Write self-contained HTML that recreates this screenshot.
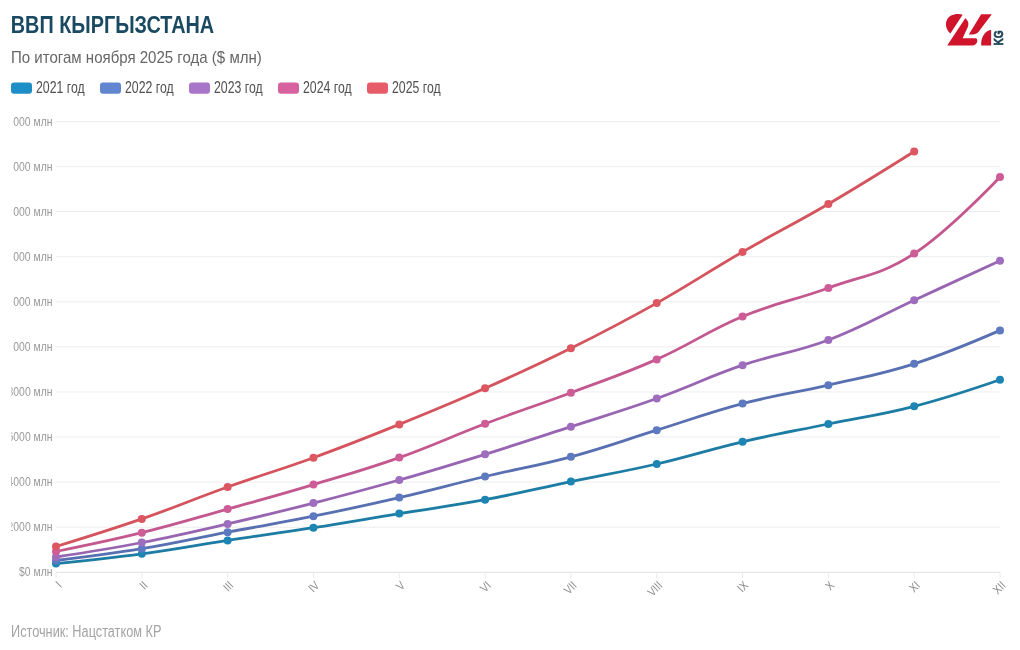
<!DOCTYPE html>
<html><head><meta charset="utf-8"><title>ВВП Кыргызстана</title>
<style>html,body{margin:0;padding:0;background:#fff;width:1020px;height:650px;overflow:hidden;font-family:"Liberation Sans",sans-serif}svg{display:block;will-change:transform}</style>
</head><body>
<svg width="1020" height="650" viewBox="0 0 1020 650">
<rect width="1020" height="650" fill="#ffffff"/>
<defs><clipPath id="ylc" clipPathUnits="userSpaceOnUse"><rect x="11.3" y="0" width="1000" height="650"/></clipPath></defs>
<text x="10.8" y="32.8" font-family="Liberation Sans, sans-serif" font-weight="bold" font-size="24.4" fill="#1a4a62" textLength="203.4" lengthAdjust="spacingAndGlyphs">ВВП КЫРГЫЗСТАНА</text>
<text x="11.0" y="62.7" font-family="Liberation Sans, sans-serif" font-size="16.6" fill="#666666" textLength="250.8" lengthAdjust="spacingAndGlyphs">По итогам ноября 2025 года ($ млн)</text>
<rect x="11" y="82.4" width="21" height="11.3" rx="3" fill="#1e8ec6"/>
<text x="36.0" y="92.8" font-family="Liberation Sans, sans-serif" font-size="15.8" fill="#505050" textLength="48.6" lengthAdjust="spacingAndGlyphs">2021 год</text>
<rect x="100" y="82.4" width="21" height="11.3" rx="3" fill="#6285d0"/>
<text x="125.0" y="92.8" font-family="Liberation Sans, sans-serif" font-size="15.8" fill="#505050" textLength="48.6" lengthAdjust="spacingAndGlyphs">2022 год</text>
<rect x="189" y="82.4" width="21" height="11.3" rx="3" fill="#a876c8"/>
<text x="214.0" y="92.8" font-family="Liberation Sans, sans-serif" font-size="15.8" fill="#505050" textLength="48.6" lengthAdjust="spacingAndGlyphs">2023 год</text>
<rect x="278" y="82.4" width="21" height="11.3" rx="3" fill="#d862a0"/>
<text x="303.0" y="92.8" font-family="Liberation Sans, sans-serif" font-size="15.8" fill="#505050" textLength="48.6" lengthAdjust="spacingAndGlyphs">2024 год</text>
<rect x="367" y="82.4" width="21" height="11.3" rx="3" fill="#e65c68"/>
<text x="392.0" y="92.8" font-family="Liberation Sans, sans-serif" font-size="15.8" fill="#505050" textLength="48.6" lengthAdjust="spacingAndGlyphs">2025 год</text>
<line x1="56" x2="1000" y1="121.50" y2="121.50" stroke="#ededed" stroke-width="1"/>
<line x1="56" x2="1000" y1="166.58" y2="166.58" stroke="#ededed" stroke-width="1"/>
<line x1="56" x2="1000" y1="211.66" y2="211.66" stroke="#ededed" stroke-width="1"/>
<line x1="56" x2="1000" y1="256.74" y2="256.74" stroke="#ededed" stroke-width="1"/>
<line x1="56" x2="1000" y1="301.82" y2="301.82" stroke="#ededed" stroke-width="1"/>
<line x1="56" x2="1000" y1="346.90" y2="346.90" stroke="#ededed" stroke-width="1"/>
<line x1="56" x2="1000" y1="391.98" y2="391.98" stroke="#ededed" stroke-width="1"/>
<line x1="56" x2="1000" y1="437.06" y2="437.06" stroke="#ededed" stroke-width="1"/>
<line x1="56" x2="1000" y1="482.14" y2="482.14" stroke="#ededed" stroke-width="1"/>
<line x1="56" x2="1000" y1="527.22" y2="527.22" stroke="#ededed" stroke-width="1"/>
<line x1="56" x2="1000" y1="572.30" y2="572.30" stroke="#e2e2e2" stroke-width="1"/>
<g clip-path="url(#ylc)">
<text x="52.5" y="125.70" font-family="Liberation Sans, sans-serif" font-size="12.3" fill="#999999" text-anchor="end" transform="translate(52.5 0) scale(0.847 1) translate(-52.5 0)" >$20 000 млн</text>
<text x="52.5" y="170.78" font-family="Liberation Sans, sans-serif" font-size="12.3" fill="#999999" text-anchor="end" transform="translate(52.5 0) scale(0.847 1) translate(-52.5 0)" >$18 000 млн</text>
<text x="52.5" y="215.86" font-family="Liberation Sans, sans-serif" font-size="12.3" fill="#999999" text-anchor="end" transform="translate(52.5 0) scale(0.847 1) translate(-52.5 0)" >$16 000 млн</text>
<text x="52.5" y="260.94" font-family="Liberation Sans, sans-serif" font-size="12.3" fill="#999999" text-anchor="end" transform="translate(52.5 0) scale(0.847 1) translate(-52.5 0)" >$14 000 млн</text>
<text x="52.5" y="306.02" font-family="Liberation Sans, sans-serif" font-size="12.3" fill="#999999" text-anchor="end" transform="translate(52.5 0) scale(0.847 1) translate(-52.5 0)" >$12 000 млн</text>
<text x="52.5" y="351.10" font-family="Liberation Sans, sans-serif" font-size="12.3" fill="#999999" text-anchor="end" transform="translate(52.5 0) scale(0.847 1) translate(-52.5 0)" >$10 000 млн</text>
<text x="52.5" y="396.18" font-family="Liberation Sans, sans-serif" font-size="12.3" fill="#999999" text-anchor="end" transform="translate(52.5 0) scale(0.847 1) translate(-52.5 0)" >$8000 млн</text>
<text x="52.5" y="441.26" font-family="Liberation Sans, sans-serif" font-size="12.3" fill="#999999" text-anchor="end" transform="translate(52.5 0) scale(0.847 1) translate(-52.5 0)" >$6000 млн</text>
<text x="52.5" y="486.34" font-family="Liberation Sans, sans-serif" font-size="12.3" fill="#999999" text-anchor="end" transform="translate(52.5 0) scale(0.847 1) translate(-52.5 0)" >$4000 млн</text>
<text x="52.5" y="531.42" font-family="Liberation Sans, sans-serif" font-size="12.3" fill="#999999" text-anchor="end" transform="translate(52.5 0) scale(0.847 1) translate(-52.5 0)" >$2000 млн</text>
<text x="52.5" y="576.50" font-family="Liberation Sans, sans-serif" font-size="12.3" fill="#999999" text-anchor="end" transform="translate(52.5 0) scale(0.847 1) translate(-52.5 0)" >$0 млн</text>
</g>
<line x1="56.00" x2="56.00" y1="572.30" y2="578.30" stroke="#ececec" stroke-width="1"/>
<line x1="141.82" x2="141.82" y1="572.30" y2="578.30" stroke="#ececec" stroke-width="1"/>
<line x1="227.64" x2="227.64" y1="572.30" y2="578.30" stroke="#ececec" stroke-width="1"/>
<line x1="313.45" x2="313.45" y1="572.30" y2="578.30" stroke="#ececec" stroke-width="1"/>
<line x1="399.27" x2="399.27" y1="572.30" y2="578.30" stroke="#ececec" stroke-width="1"/>
<line x1="485.09" x2="485.09" y1="572.30" y2="578.30" stroke="#ececec" stroke-width="1"/>
<line x1="570.91" x2="570.91" y1="572.30" y2="578.30" stroke="#ececec" stroke-width="1"/>
<line x1="656.73" x2="656.73" y1="572.30" y2="578.30" stroke="#ececec" stroke-width="1"/>
<line x1="742.55" x2="742.55" y1="572.30" y2="578.30" stroke="#ececec" stroke-width="1"/>
<line x1="828.36" x2="828.36" y1="572.30" y2="578.30" stroke="#ececec" stroke-width="1"/>
<line x1="914.18" x2="914.18" y1="572.30" y2="578.30" stroke="#ececec" stroke-width="1"/>
<line x1="1000.00" x2="1000.00" y1="572.30" y2="578.30" stroke="#ececec" stroke-width="1"/>
<text font-family="Liberation Sans, sans-serif" font-size="12" fill="#8c8c8c" text-anchor="end" transform="translate(62.60 586.2) rotate(-45) scale(0.85 1)">I</text>
<text font-family="Liberation Sans, sans-serif" font-size="12" fill="#8c8c8c" text-anchor="end" transform="translate(148.42 586.2) rotate(-45) scale(0.85 1)">II</text>
<text font-family="Liberation Sans, sans-serif" font-size="12" fill="#8c8c8c" text-anchor="end" transform="translate(234.24 586.2) rotate(-45) scale(0.85 1)">III</text>
<text font-family="Liberation Sans, sans-serif" font-size="12" fill="#8c8c8c" text-anchor="end" transform="translate(320.05 586.2) rotate(-45) scale(0.85 1)">IV</text>
<text font-family="Liberation Sans, sans-serif" font-size="12" fill="#8c8c8c" text-anchor="end" transform="translate(405.87 586.2) rotate(-45) scale(0.85 1)">V</text>
<text font-family="Liberation Sans, sans-serif" font-size="12" fill="#8c8c8c" text-anchor="end" transform="translate(491.69 586.2) rotate(-45) scale(0.85 1)">VI</text>
<text font-family="Liberation Sans, sans-serif" font-size="12" fill="#8c8c8c" text-anchor="end" transform="translate(577.51 586.2) rotate(-45) scale(0.85 1)">VII</text>
<text font-family="Liberation Sans, sans-serif" font-size="12" fill="#8c8c8c" text-anchor="end" transform="translate(663.33 586.2) rotate(-45) scale(0.85 1)">VIII</text>
<text font-family="Liberation Sans, sans-serif" font-size="12" fill="#8c8c8c" text-anchor="end" transform="translate(749.15 586.2) rotate(-45) scale(0.85 1)">IX</text>
<text font-family="Liberation Sans, sans-serif" font-size="12" fill="#8c8c8c" text-anchor="end" transform="translate(834.96 586.2) rotate(-45) scale(0.85 1)">X</text>
<text font-family="Liberation Sans, sans-serif" font-size="12" fill="#8c8c8c" text-anchor="end" transform="translate(920.78 586.2) rotate(-45) scale(0.85 1)">XI</text>
<text font-family="Liberation Sans, sans-serif" font-size="12" fill="#8c8c8c" text-anchor="end" transform="translate(1006.60 586.2) rotate(-45) scale(0.85 1)">XII</text>
<path d="M 56.00 563.60 C 56.00 563.60 107.49 558.44 141.82 553.80 C 176.15 549.16 193.31 545.62 227.64 540.40 C 261.96 535.18 279.13 533.06 313.45 527.70 C 347.78 522.34 364.95 519.20 399.27 513.60 C 433.60 508.00 450.76 506.10 485.09 499.70 C 519.42 493.30 536.58 488.74 570.91 481.60 C 605.24 474.46 622.40 471.96 656.73 464.00 C 691.05 456.04 708.22 449.80 742.55 441.80 C 776.87 433.80 794.04 431.10 828.36 424.00 C 862.69 416.90 879.85 415.16 914.18 406.30 C 948.51 397.44 1000.00 379.70 1000.00 379.70" fill="none" stroke="#1d7ca3" stroke-width="2.8" stroke-linejoin="round" stroke-linecap="round"/>
<circle cx="56.00" cy="563.60" r="4" fill="#1d85b4"/>
<circle cx="141.82" cy="553.80" r="4" fill="#1d85b4"/>
<circle cx="227.64" cy="540.40" r="4" fill="#1d85b4"/>
<circle cx="313.45" cy="527.70" r="4" fill="#1d85b4"/>
<circle cx="399.27" cy="513.60" r="4" fill="#1d85b4"/>
<circle cx="485.09" cy="499.70" r="4" fill="#1d85b4"/>
<circle cx="570.91" cy="481.60" r="4" fill="#1d85b4"/>
<circle cx="656.73" cy="464.00" r="4" fill="#1d85b4"/>
<circle cx="742.55" cy="441.80" r="4" fill="#1d85b4"/>
<circle cx="828.36" cy="424.00" r="4" fill="#1d85b4"/>
<circle cx="914.18" cy="406.30" r="4" fill="#1d85b4"/>
<circle cx="1000.00" cy="379.70" r="4" fill="#1d85b4"/>
<path d="M 56.00 560.50 C 56.00 560.50 107.49 554.36 141.82 548.70 C 176.15 543.04 193.31 538.70 227.64 532.20 C 261.96 525.70 279.13 523.12 313.45 516.20 C 347.78 509.28 364.95 505.54 399.27 497.60 C 433.60 489.66 450.76 484.66 485.09 476.50 C 519.42 468.34 536.58 466.06 570.91 456.80 C 605.24 447.54 622.40 440.84 656.73 430.20 C 691.05 419.56 708.22 412.60 742.55 403.60 C 776.87 394.60 794.04 393.16 828.36 385.20 C 862.69 377.24 879.85 374.76 914.18 363.80 C 948.51 352.84 1000.00 330.40 1000.00 330.40" fill="none" stroke="#5870b2" stroke-width="2.8" stroke-linejoin="round" stroke-linecap="round"/>
<circle cx="56.00" cy="560.50" r="4" fill="#5d7ac1"/>
<circle cx="141.82" cy="548.70" r="4" fill="#5d7ac1"/>
<circle cx="227.64" cy="532.20" r="4" fill="#5d7ac1"/>
<circle cx="313.45" cy="516.20" r="4" fill="#5d7ac1"/>
<circle cx="399.27" cy="497.60" r="4" fill="#5d7ac1"/>
<circle cx="485.09" cy="476.50" r="4" fill="#5d7ac1"/>
<circle cx="570.91" cy="456.80" r="4" fill="#5d7ac1"/>
<circle cx="656.73" cy="430.20" r="4" fill="#5d7ac1"/>
<circle cx="742.55" cy="403.60" r="4" fill="#5d7ac1"/>
<circle cx="828.36" cy="385.20" r="4" fill="#5d7ac1"/>
<circle cx="914.18" cy="363.80" r="4" fill="#5d7ac1"/>
<circle cx="1000.00" cy="330.40" r="4" fill="#5d7ac1"/>
<path d="M 56.00 557.00 C 56.00 557.00 107.49 549.12 141.82 542.50 C 176.15 535.88 193.31 531.78 227.64 523.90 C 261.96 516.02 279.13 511.88 313.45 503.10 C 347.78 494.32 364.95 489.76 399.27 480.00 C 433.60 470.24 450.76 464.96 485.09 454.30 C 519.42 443.64 536.58 437.86 570.91 426.70 C 605.24 415.54 622.40 410.80 656.73 398.50 C 691.05 386.20 708.22 376.90 742.55 365.20 C 776.87 353.50 794.04 353.00 828.36 340.00 C 862.69 327.00 879.85 316.06 914.18 300.20 C 948.51 284.34 1000.00 260.70 1000.00 260.70" fill="none" stroke="#9765b2" stroke-width="2.8" stroke-linejoin="round" stroke-linecap="round"/>
<circle cx="56.00" cy="557.00" r="4" fill="#9f6dbd"/>
<circle cx="141.82" cy="542.50" r="4" fill="#9f6dbd"/>
<circle cx="227.64" cy="523.90" r="4" fill="#9f6dbd"/>
<circle cx="313.45" cy="503.10" r="4" fill="#9f6dbd"/>
<circle cx="399.27" cy="480.00" r="4" fill="#9f6dbd"/>
<circle cx="485.09" cy="454.30" r="4" fill="#9f6dbd"/>
<circle cx="570.91" cy="426.70" r="4" fill="#9f6dbd"/>
<circle cx="656.73" cy="398.50" r="4" fill="#9f6dbd"/>
<circle cx="742.55" cy="365.20" r="4" fill="#9f6dbd"/>
<circle cx="828.36" cy="340.00" r="4" fill="#9f6dbd"/>
<circle cx="914.18" cy="300.20" r="4" fill="#9f6dbd"/>
<circle cx="1000.00" cy="260.70" r="4" fill="#9f6dbd"/>
<path d="M 56.00 551.50 C 56.00 551.50 107.49 541.18 141.82 532.70 C 176.15 524.22 193.31 518.72 227.64 509.10 C 261.96 499.48 279.13 494.90 313.45 484.60 C 347.78 474.30 364.95 469.76 399.27 457.60 C 433.60 445.44 450.76 436.78 485.09 423.80 C 519.42 410.82 536.58 405.58 570.91 392.70 C 605.24 379.82 622.40 374.64 656.73 359.40 C 691.05 344.16 708.22 330.78 742.55 316.50 C 776.87 302.22 794.04 300.58 828.36 288.00 C 862.69 275.42 879.85 275.80 914.18 253.60 C 948.51 231.40 1000.00 177.00 1000.00 177.00" fill="none" stroke="#c4588e" stroke-width="2.8" stroke-linejoin="round" stroke-linecap="round"/>
<circle cx="56.00" cy="551.50" r="4" fill="#ce5d97"/>
<circle cx="141.82" cy="532.70" r="4" fill="#ce5d97"/>
<circle cx="227.64" cy="509.10" r="4" fill="#ce5d97"/>
<circle cx="313.45" cy="484.60" r="4" fill="#ce5d97"/>
<circle cx="399.27" cy="457.60" r="4" fill="#ce5d97"/>
<circle cx="485.09" cy="423.80" r="4" fill="#ce5d97"/>
<circle cx="570.91" cy="392.70" r="4" fill="#ce5d97"/>
<circle cx="656.73" cy="359.40" r="4" fill="#ce5d97"/>
<circle cx="742.55" cy="316.50" r="4" fill="#ce5d97"/>
<circle cx="828.36" cy="288.00" r="4" fill="#ce5d97"/>
<circle cx="914.18" cy="253.60" r="4" fill="#ce5d97"/>
<circle cx="1000.00" cy="177.00" r="4" fill="#ce5d97"/>
<path d="M 56.00 546.50 C 56.00 546.50 107.49 530.80 141.82 518.90 C 176.15 507.00 193.31 499.24 227.64 487.00 C 261.96 474.76 279.13 470.22 313.45 457.70 C 347.78 445.18 364.95 438.28 399.27 424.40 C 433.60 410.52 450.76 403.52 485.09 388.30 C 519.42 373.08 536.58 365.34 570.91 348.30 C 605.24 331.26 622.40 322.38 656.73 303.10 C 691.05 283.82 708.22 271.72 742.55 251.90 C 776.87 232.08 794.04 224.08 828.36 204.00 C 862.69 183.92 914.18 151.50 914.18 151.50" fill="none" stroke="#d4535c" stroke-width="2.8" stroke-linejoin="round" stroke-linecap="round"/>
<circle cx="56.00" cy="546.50" r="4" fill="#dd5762"/>
<circle cx="141.82" cy="518.90" r="4" fill="#dd5762"/>
<circle cx="227.64" cy="487.00" r="4" fill="#dd5762"/>
<circle cx="313.45" cy="457.70" r="4" fill="#dd5762"/>
<circle cx="399.27" cy="424.40" r="4" fill="#dd5762"/>
<circle cx="485.09" cy="388.30" r="4" fill="#dd5762"/>
<circle cx="570.91" cy="348.30" r="4" fill="#dd5762"/>
<circle cx="656.73" cy="303.10" r="4" fill="#dd5762"/>
<circle cx="742.55" cy="251.90" r="4" fill="#dd5762"/>
<circle cx="828.36" cy="204.00" r="4" fill="#dd5762"/>
<circle cx="914.18" cy="151.50" r="4" fill="#dd5762"/>
<text x="11.0" y="636.8" font-family="Liberation Sans, sans-serif" font-size="15.8" fill="#a4a4a4" textLength="150.4" lengthAdjust="spacingAndGlyphs">Источник: Нацстатком КР</text>
<g transform="translate(940 8) scale(0.06863)" fill="#d0142c">
<path d="M330 98 C260 75 110 85 88 215 C80 280 110 335 151 372 Z"/>
<path d="M368 150 C420 185 425 250 395 300 L330 440 L520 440 C560 440 555 545 470 545 L105 545 Z"/>
<path d="M600 90 L755 90 L560 350 C530 385 470 390 420 385 Z"/>
<path d="M745 318 L745 545 L600 545 C595 440 640 340 745 318 Z"/>
</g>
<text font-family="Liberation Sans, sans-serif" font-weight="bold" font-size="12.8" fill="#173f52" stroke="#173f52" stroke-width="0.6" transform="translate(1002.7 45.6) rotate(-90)" textLength="15.4" lengthAdjust="spacingAndGlyphs">KG</text>
</svg>
</body></html>
